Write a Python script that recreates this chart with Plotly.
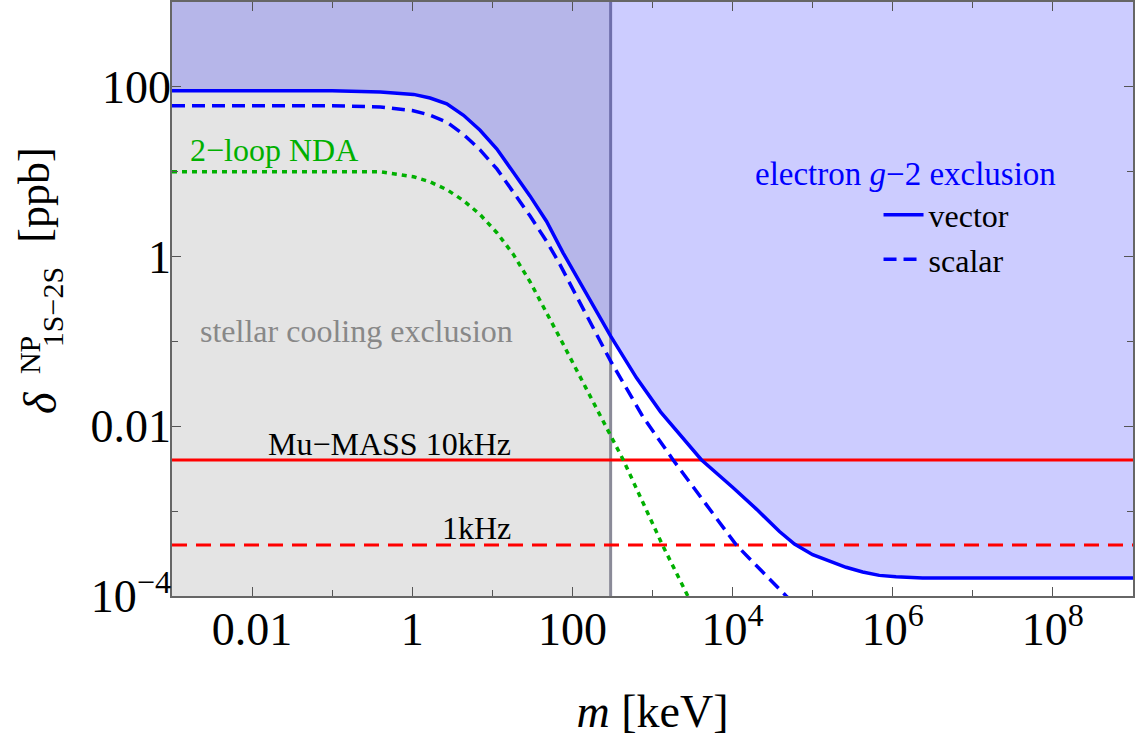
import numpy as np
import plotly.graph_objects as go

# ---- data ----
m_vector = [1e-3, 1e-2, 0.1, 0.4, 1.04, 1.67, 2.70, 4.37, 7.03, 11.4, 18.3, 29.5, 47.6, 76.7,
            299, 631, 1260, 2510, 4070, 10000, 20000, 38500, 59300, 1.0e5, 1.62e5,
            2.61e5, 4.21e5, 6.79e5, 1.10e6, 2.35e6, 1e9]
d_vector = [90, 90, 90, 86.7, 81.5, 73.8, 63.2, 46.2, 30.8, 18.5, 10.0, 5.19, 2.59, 1.10,
            0.116, 0.0372, 0.0148, 0.0069, 0.00404, 0.00191, 0.00105, 5.75e-4, 4.09e-4,
            3.07e-4, 2.56e-4, 2.18e-4, 1.92e-4, 1.75e-4, 1.69e-4, 1.63e-4, 1.63e-4]

m_scalar = [1e-3, 1e-2, 0.1, 0.4, 1.0, 1.67, 2.70, 4.37, 7.03, 11.4, 18.3, 29.5, 47.6, 66.5,
            299, 762, 1800, 11100, 46700, 1e5]
d_scalar = [60, 60, 60, 57.8, 52.5, 46.5, 38.5, 27.5, 18.1, 10.8, 5.82, 3.02, 1.51, 0.88,
            0.059, 0.0129, 0.00404, 4.0e-4, 1.0e-4, 5e-5]

m_nda = [1e-3, 1e-2, 0.1, 0.4, 1.04, 1.67, 2.70, 4.37, 7.03, 11.4, 18.3, 29.5, 69.8, 242,
         430, 1330, 2770, 3980]
d_nda = [10, 10, 10, 10, 8.73, 7.59, 6.15, 4.57, 3.13, 1.91, 1.06, 0.507, 0.110, 0.0117,
         0.00404, 4.0e-4, 1.0e-4, 5e-5]

mumass_10khz = 4.0e-3
mumass_1khz = 4.0e-4
m_stellar = 300.0

x_range = [1e-3, 1e9]
y_range = [1e-4, 1e3]

x_major = [1e-2, 1, 1e2, 1e4, 1e6, 1e8]
x_major_text = ["0.01", "1", "100", "10<sup>4</sup>", "10<sup>6</sup>", "10<sup>8</sup>"]
x_minor = [1e-1, 1e1, 1e3, 1e5, 1e7]
y_major = [1e-4, 1e-2, 1, 1e2]
y_major_text = ["10<sup>\u22124</sup>", "0.01", "1", "100"]
y_minor = [1e-3, 1e-1, 1e1]

FONT = "Liberation Serif"
BLUE = "#0000ff"
RED = "#ff0000"
GREEN = "#00b000"

# plot-area geometry in pixels (for paper-coordinate conversions of text)
W, H = 1135, 737
L, R, T, B = 172, 0, 0, 141
PW, PH = W - L - R, H - T - B


def px(x):
    return (x - L) / PW


def py(y):
    return 1 - (y - T) / PH


fig = go.Figure()

# stellar cooling exclusion region (gray)
fig.add_trace(go.Scatter(
    x=[x_range[0], m_stellar, m_stellar, x_range[0], x_range[0]],
    y=[y_range[0], y_range[0], y_range[1], y_range[1], y_range[0]],
    fill="toself", fillcolor="#e4e4e4", line=dict(width=0), mode="lines",
    hoverinfo="skip", showlegend=False))

# stellar bound vertical line
fig.add_trace(go.Scatter(
    x=[m_stellar, m_stellar], y=y_range, mode="lines",
    line=dict(color="#8a8a98", width=3), hoverinfo="skip", showlegend=False))

# electron g-2 exclusion region: above the vector curve
fig.add_trace(go.Scatter(
    x=m_vector, y=[y_range[1]] * len(m_vector), mode="lines",
    line=dict(width=0), hoverinfo="skip", showlegend=False))
fig.add_trace(go.Scatter(
    x=m_vector, y=d_vector, mode="lines", fill="tonexty",
    fillcolor="rgba(0,0,255,0.2)", line=dict(width=0),
    hoverinfo="skip", showlegend=False))

# Mu-MASS lines
fig.add_trace(go.Scatter(
    x=x_range, y=[mumass_10khz] * 2, mode="lines",
    line=dict(color=RED, width=3), showlegend=False))
fig.add_trace(go.Scatter(
    x=x_range, y=[mumass_1khz] * 2, mode="lines",
    line=dict(color=RED, width=3, dash="15px,9px"), showlegend=False))

# 2-loop NDA
fig.add_trace(go.Scatter(
    x=m_nda, y=d_nda, mode="lines",
    line=dict(color=GREEN, width=3.5, dash="5px,5px"),
    showlegend=False))

# vector
fig.add_trace(go.Scatter(
    x=m_vector, y=d_vector, mode="lines", name="vector",
    line=dict(color=BLUE, width=3.5), showlegend=True))

# scalar
fig.add_trace(go.Scatter(
    x=m_scalar, y=d_scalar, mode="lines", name="scalar",
    line=dict(color=BLUE, width=3.5, dash="13px,7px"), showlegend=True))

axis_common = dict(
    type="log", showgrid=False, zeroline=False,
    showline=True, linecolor="#666666", linewidth=1.5, mirror="allticks",
    ticks="inside", ticklen=9, tickwidth=1.3, tickcolor="#555555",
    tickfont=dict(family=FONT, size=46, color="black"),
    tickmode="array",
)

fig.update_xaxes(
    **axis_common,
    range=[np.log10(x_range[0]), np.log10(x_range[1])],
    tickvals=x_major, ticktext=x_major_text,
    ticklabelstandoff=-8,
    minor=dict(tickmode="array", tickvals=x_minor, ticks="inside", ticklen=6,
               tickwidth=1.3, tickcolor="#555555"),
    title=dict(text="<i>m</i> [keV]", font=dict(family=FONT, size=46, color="black"),
               standoff=43),
)
fig.update_yaxes(
    **axis_common,
    range=[np.log10(y_range[0]), np.log10(y_range[1])],
    tickvals=y_major, ticktext=y_major_text,
    ticklabelstandoff=-10,
    minor=dict(tickmode="array", tickvals=y_minor, ticks="inside", ticklen=6,
               tickwidth=1.3, tickcolor="#555555"),
)

ann = []
# y-axis title pieces (rotated)
ann.append(dict(text="[ppb]", x=px(34), y=py(194), font=dict(size=44)))
ann.append(dict(text="<i>\u03b4</i>", x=px(40), y=py(402), font=dict(size=46)))
ann.append(dict(text="NP", x=px(30), y=py(354), font=dict(size=30)))
ann.append(dict(text="1S\u22122S", x=px(53), y=py(306), font=dict(size=30)))
for a in ann:
    a.update(textangle=-90, xref="paper", yref="paper", showarrow=False,
             xanchor="center", yanchor="middle")
    a["font"].update(family=FONT, color="black")

ann += [
    dict(text="2\u2212loop NDA", x=px(188), y=py(148), xanchor="left",
         font=dict(family=FONT, size=32, color=GREEN)),
    dict(text="stellar cooling exclusion", x=px(198), y=py(330), xanchor="left",
         font=dict(family=FONT, size=32, color="#888888")),
    dict(text="electron <i>g</i>\u22122 exclusion", x=px(907), y=py(173), xanchor="center",
         font=dict(family=FONT, size=33, color=BLUE)),
    dict(text="Mu\u2212MASS 10kHz", x=px(514), y=py(443), xanchor="right",
         font=dict(family=FONT, size=32, color="black")),
    dict(text="1kHz", x=px(514), y=py(528), xanchor="right",
         font=dict(family=FONT, size=32, color="black")),
]
for a in ann[4:]:
    a.update(xref="paper", yref="paper", showarrow=False, yanchor="middle")

fig.update_layout(
    width=W, height=H,
    margin=dict(l=L, r=R, t=T, b=B, pad=0),
    paper_bgcolor="white", plot_bgcolor="white",
    font=dict(family=FONT, color="black"),
    annotations=ann,
    legend=dict(x=px(880), y=py(186), xanchor="left", yanchor="top",
                traceorder="normal",
                bgcolor="rgba(0,0,0,0)", font=dict(family=FONT, size=32, color="black"),
                tracegroupgap=0, itemwidth=40),
    showlegend=True,
)

fig.write_html("out.html", config={"displayModeBar": False},
               post_script="document.body.style.margin='0px';")
